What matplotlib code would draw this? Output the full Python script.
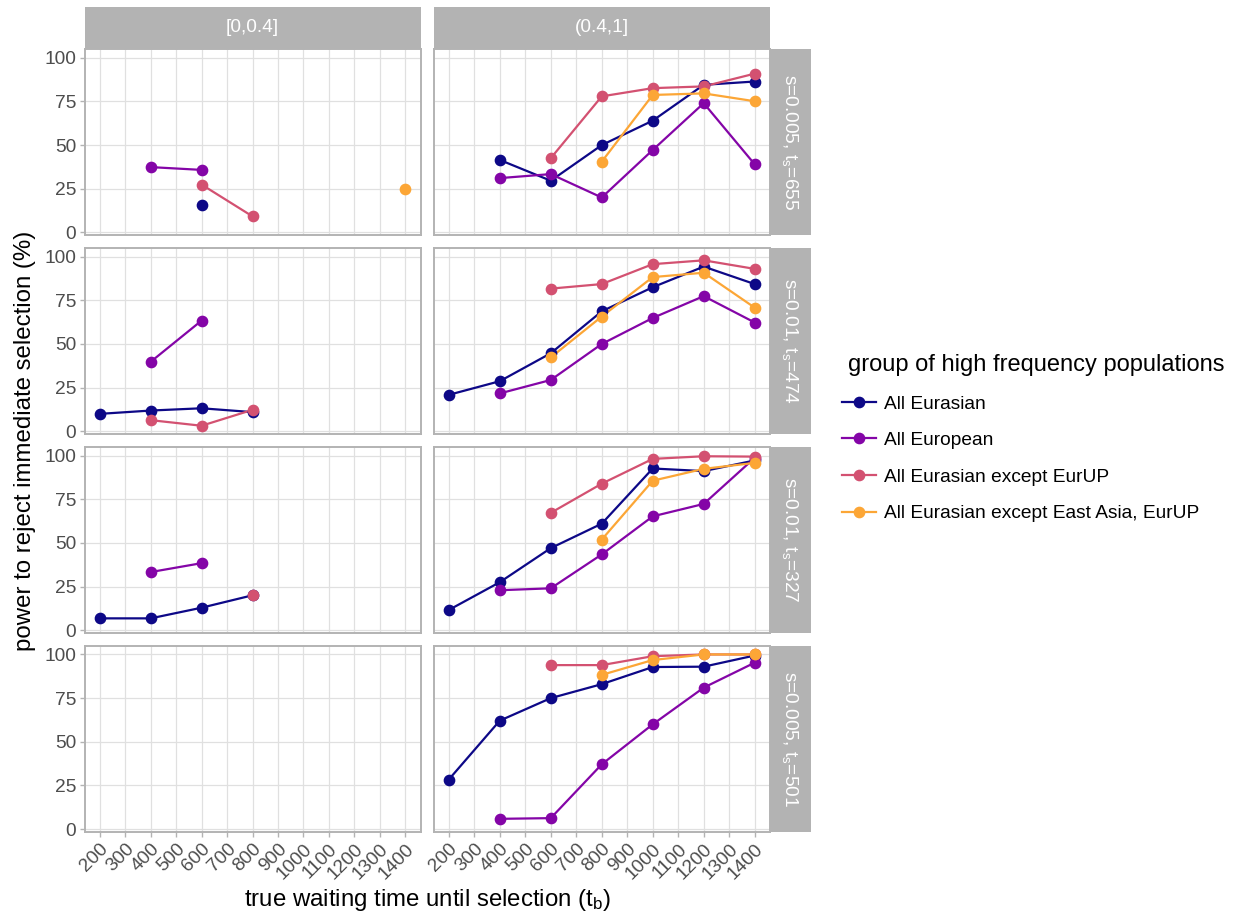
import numpy as np
import matplotlib
matplotlib.use("Agg")
import matplotlib.pyplot as plt
from matplotlib.lines import Line2D

plt.rcParams["font.family"] = ["Liberation Sans", "DejaVu Sans"]
plt.rcParams["mathtext.fontset"] = "custom"
plt.rcParams["mathtext.rm"] = "Liberation Sans"
plt.rcParams["mathtext.it"] = "Liberation Sans:italic"

nan = np.nan

# waiting times (t_b) on the x axis
t_b = [200, 400, 600, 800, 1000, 1200, 1400]
x_ticks = list(range(200, 1401, 100))

groups = ["All Eurasian", "All European", "All Eurasian except EurUP",
          "All Eurasian except East Asia, EurUP"]
col_labels = ["[0,0.4]", "(0.4,1]"]
row_labels = ["s=0.005, t$_\\mathrm{s}$=655", "s=0.01, t$_\\mathrm{s}$=474",
              "s=0.01, t$_\\mathrm{s}$=327", "s=0.005, t$_\\mathrm{s}$=501"]

# power (%) per facet row, column and group
# row 1: s=0.005, t_s=655
r1_low_eurasian = [nan, nan, 15.5, nan, nan, nan, nan]
r1_low_european = [nan, 37.4, 35.8, nan, nan, nan, nan]
r1_low_ex_eurup = [nan, nan, 27.4, 9.2, nan, nan, nan]
r1_low_ex_ea = [nan, nan, nan, nan, nan, nan, 25.1]
r1_high_eurasian = [nan, 41.5, 29.6, 50.0, 64.0, 84.5, 86.4]
r1_high_european = [nan, 31.1, 33.4, 20.0, 47.2, 74.0, 39.0]
r1_high_ex_eurup = [nan, nan, 42.5, 77.9, 82.6, 83.6, 90.9]
r1_high_ex_ea = [nan, nan, nan, 40.5, 78.7, 79.6, 75.1]

# row 2: s=0.01, t_s=474
r2_low_eurasian = [10.0, 11.9, 13.2, 11.0, nan, nan, nan]
r2_low_european = [nan, 39.8, 63.4, nan, nan, nan, nan]
r2_low_ex_eurup = [nan, 6.4, 3.2, 12.3, nan, nan, nan]
r2_low_ex_ea = [nan, nan, nan, nan, nan, nan, nan]
r2_high_eurasian = [20.9, 28.7, 44.7, 68.7, 82.5, 94.3, 84.3]
r2_high_european = [nan, 21.7, 29.4, 50.0, 64.9, 77.4, 62.3]
r2_high_ex_eurup = [nan, nan, 81.7, 84.3, 95.7, 97.9, 93.0]
r2_high_ex_ea = [nan, nan, 42.3, 65.7, 88.3, 90.8, 70.8]

# row 3: s=0.01, t_s=327
r3_low_eurasian = [6.8, 6.8, 12.9, 20.0, nan, nan, nan]
r3_low_european = [nan, 33.3, 38.4, nan, nan, nan, nan]
r3_low_ex_eurup = [nan, nan, nan, 20.0, nan, nan, nan]
r3_low_ex_ea = [nan, nan, nan, nan, nan, nan, nan]
r3_high_eurasian = [11.6, 27.5, 47.0, 61.0, 92.6, 91.1, 97.2]
r3_high_european = [nan, 22.9, 24.0, 43.4, 65.2, 72.3, 98.7]
r3_high_ex_eurup = [nan, nan, 67.2, 83.9, 98.1, 99.6, 99.4]
r3_high_ex_ea = [nan, nan, nan, 51.9, 85.6, 92.4, 95.8]

# row 4: s=0.005, t_s=501
r4_low_eurasian = [nan, nan, nan, nan, nan, nan, nan]
r4_low_european = [nan, nan, nan, nan, nan, nan, nan]
r4_low_ex_eurup = [nan, nan, nan, nan, nan, nan, nan]
r4_low_ex_ea = [nan, nan, nan, nan, nan, nan, nan]
r4_high_eurasian = [28.4, 62.1, 75.0, 83.0, 92.8, 93.0, 99.4]
r4_high_european = [nan, 5.9, 6.3, 37.1, 60.0, 81.0, 95.3]
r4_high_ex_eurup = [nan, nan, 93.9, 93.9, 99.0, 100.0, 100.0]
r4_high_ex_ea = [nan, nan, nan, 88.3, 96.8, 100.0, 100.0]

panels = [
    [[r1_low_eurasian, r1_low_european, r1_low_ex_eurup, r1_low_ex_ea],
     [r1_high_eurasian, r1_high_european, r1_high_ex_eurup, r1_high_ex_ea]],
    [[r2_low_eurasian, r2_low_european, r2_low_ex_eurup, r2_low_ex_ea],
     [r2_high_eurasian, r2_high_european, r2_high_ex_eurup, r2_high_ex_ea]],
    [[r3_low_eurasian, r3_low_european, r3_low_ex_eurup, r3_low_ex_ea],
     [r3_high_eurasian, r3_high_european, r3_high_ex_eurup, r3_high_ex_ea]],
    [[r4_low_eurasian, r4_low_european, r4_low_ex_eurup, r4_low_ex_ea],
     [r4_high_eurasian, r4_high_european, r4_high_ex_eurup, r4_high_ex_ea]],
]

colors = [plt.cm.plasma(v) for v in (0.0, 0.2667, 0.5333, 0.8)]

W, H = 1238, 918
fig = plt.figure(figsize=(W / 100, H / 100), dpi=100)
fig.patch.set_facecolor("white")


def box(x0, y0, x1, y1):
    return [x0 / W, 1 - y1 / H, (x1 - x0) / W, (y1 - y0) / H]


col_x = [(84.5, 420.5), (433.5, 770.0)]
row_top = [49.3, 248.2, 447.1, 646.0]
row_h = 186.0
strip_gray = "#B3B3B3"
tick_col = "#4D4D4D"
fs_small = 13.8
fs_big = 17.3

axes = {}
ref = None
for r in range(4):
    for c in range(2):
        x0, x1 = col_x[c]
        y0 = row_top[r]
        ax = fig.add_axes(box(x0, y0, x1, y0 + row_h), sharex=ref, sharey=ref)
        if ref is None:
            ref = ax
        axes[(r, c)] = ax
        ax.set_axisbelow(True)
        ax.grid(True, color="#E0E0E0", lw=0.9)
        for sp in ax.spines.values():
            sp.set_color(strip_gray)
            sp.set_linewidth(1.4)
        series = panels[r][c]
        for g, ys in enumerate(series):
            ax.plot(t_b, ys, color=colors[g], lw=1.6, zorder=2,
                    solid_capstyle="round")
        for g, ys in enumerate(series):
            ax.plot(t_b, ys, ls="none", marker="o", ms=7.4, color=colors[g],
                    zorder=3)
        ax.set_xticks(x_ticks)
        ax.set_yticks([0, 25, 50, 75, 100])
        ax.tick_params(colors=strip_gray, labelcolor=tick_col, length=3.6,
                       width=1.0, labelsize=fs_small, pad=2.5)
        if c == 1:
            ax.tick_params(labelleft=False, left=False)
        if r < 3:
            ax.tick_params(labelbottom=False, bottom=False)
        else:
            for lab in ax.get_xticklabels():
                lab.set_rotation(45)
                lab.set_ha("right")
                lab.set_va("top")
                lab.set_rotation_mode("anchor")

ref.margins(x=0.05, y=0.05)

# column strips
for c in range(2):
    x0, x1 = col_x[c]
    sax = fig.add_axes(box(x0, 6.7, x1, 49.3))
    sax.set_facecolor(strip_gray)
    sax.set_xticks([]); sax.set_yticks([])
    for sp in sax.spines.values():
        sp.set_visible(False)
    sax.text(0.5, 0.5, col_labels[c], color="white", fontsize=fs_small,
             ha="center", va="center", transform=sax.transAxes)

# row strips
for r in range(4):
    y0 = row_top[r]
    sax = fig.add_axes(box(770.0, y0, 811.0, y0 + row_h))
    sax.set_facecolor(strip_gray)
    sax.set_xticks([]); sax.set_yticks([])
    for sp in sax.spines.values():
        sp.set_visible(False)
    sax.text(0.5, 0.5, row_labels[r], color="white", fontsize=fs_small,
             ha="center", va="center", rotation=-90, transform=sax.transAxes)

# axis titles
fig.text(25 / W, 1 - 440.6 / H, "power to reject immediate selection (%)",
         rotation=90, ha="center", va="center", fontsize=fs_big, color="black")
fig.text(427 / W, 1 - 900 / H, "true waiting time until selection (t$_\\mathrm{b}$)",
         ha="center", va="center", fontsize=fs_big, color="black")

# legend
handles = [Line2D([0], [0], color=colors[g], lw=1.6, marker="o", ms=7.4)
           for g in range(4)]
leg = fig.legend(handles, groups, loc="upper left",
                 bbox_to_anchor=(834 / W, 1 - 346 / H), frameon=False,
                 fontsize=fs_small, title="group of high frequency populations",
                 title_fontsize=17.0, alignment="left", handlelength=1.8,
                 handletextpad=0.4, labelspacing=1.0, borderaxespad=0.0)
leg._legend_box.sep = 14
leg.get_title().set_position((6, 0))

fig.savefig("out.png", dpi=100, facecolor="white")
